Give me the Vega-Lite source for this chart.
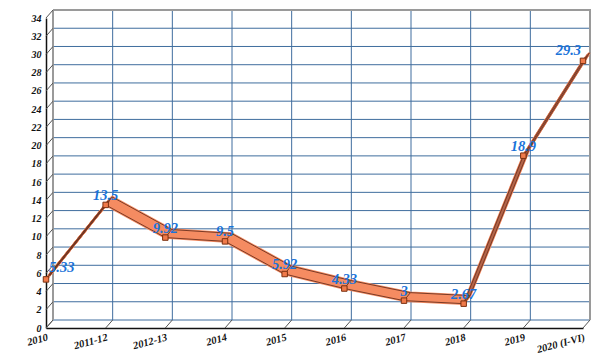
{
  "$schema": "https://vega.github.io/schema/vega-lite/v6.json",
  "width": 537,
  "height": 310,
  "autosize": {"type": "none"},
  "padding": {"left": 46, "top": 18, "right": 22, "bottom": 36},
  "background": "white",
  "datasets": {
    "main": [
      {"cat": "2010", "value": 5.33},
      {"cat": "2011-12", "value": 13.5},
      {"cat": "2012-13", "value": 9.92},
      {"cat": "2014", "value": 9.5},
      {"cat": "2015", "value": 5.92},
      {"cat": "2016", "value": 4.33},
      {"cat": "2017", "value": 3},
      {"cat": "2018", "value": 2.67},
      {"cat": "2019", "value": 18.9},
      {"cat": "2020 (I-VI)", "value": 29.3}
    ],
    "yt": [
      {"value": 0}, {"value": 2}, {"value": 4}, {"value": 6}, {"value": 8}, {"value": 10},
      {"value": 12}, {"value": 14}, {"value": 16}, {"value": 18}, {"value": 20}, {"value": 22},
      {"value": 24}, {"value": 26}, {"value": 28}, {"value": 30}, {"value": 32}, {"value": 34}
    ]
  },
  "config": {
    "view": {"stroke": null},
    "axis": {
      "title": null, "grid": false, "ticks": false,
      "labelFont": "Liberation Serif", "labelFontWeight": "bold", "labelFontStyle": "italic",
      "labelFontSize": 10, "labelColor": "#111111",
      "domainColor": "#111111", "domainWidth": 1.5
    }
  },
  "encoding": {
    "x": {
      "field": "cat", "type": "nominal",
      "scale": {"type": "point", "padding": 0, "domain": ["2010", "2011-12", "2012-13", "2014", "2015", "2016", "2017", "2018", "2019", "2020 (I-VI)"]},
      "axis": {"labelAngle": -15, "labelAlign": "right", "labelBaseline": "top", "labelPadding": 4, "labelOverlap": false, "labelFontSize": 10.5}
    },
    "y": {
      "field": "value", "type": "quantitative",
      "scale": {"domain": [0, 34], "nice": false, "zero": true},
      "axis": {"values": [0, 2, 4, 6, 8, 10, 12, 14, 16, 18, 20, 22, 24, 26, 28, 30, 32, 34], "labelPadding": 5}
    }
  },
  "layer": [
    {
      "data": {"name": "main"},
      "mark": {"type": "rule", "color": "#3f6d9e", "strokeWidth": 1, "xOffset": 7, "yOffset": -8, "y2Offset": -8},
      "encoding": {"y": {"datum": 0}, "y2": {"datum": 34}}
    },
    {
      "data": {"name": "yt"},
      "mark": {"type": "rule", "color": "#3f6d9e", "strokeWidth": 1, "xOffset": 7, "x2Offset": 7, "yOffset": -8},
      "encoding": {"x": {"datum": "2010"}, "x2": {"datum": "2020 (I-VI)"}}
    },
    {
      "data": {"name": "yt"},
      "transform": [{"filter": "datum.value == 34"}],
      "mark": {"type": "rule", "color": "#9a9a9a", "strokeWidth": 2, "xOffset": 7, "x2Offset": 8, "yOffset": -8},
      "encoding": {"x": {"datum": "2010"}, "x2": {"datum": "2020 (I-VI)"}}
    },
    {
      "data": {"name": "main"},
      "transform": [{"filter": "datum.cat == '2020 (I-VI)' || datum.cat == '2010'"}],
      "mark": {"type": "rule", "color": "#9a9a9a", "strokeWidth": 2, "xOffset": 7, "yOffset": -8, "y2Offset": -8},
      "encoding": {"y": {"datum": 0}, "y2": {"datum": 34}}
    },
    {
      "data": {"name": "yt"},
      "mark": {"type": "rule", "color": "#555555", "strokeWidth": 1, "x2Offset": 7, "y2Offset": -8},
      "encoding": {"x": {"datum": "2010"}, "x2": {"datum": "2010"}, "y2": {"field": "value"}}
    },
    {
      "data": {"name": "main"},
      "mark": {"type": "rule", "color": "#555555", "strokeWidth": 1, "x2Offset": 7, "y2Offset": -8},
      "encoding": {"x2": {"field": "cat"}, "y": {"datum": 0}, "y2": {"datum": 0}}
    },
    {"data": {"name": "main"}, "mark": {"type": "line", "color": "#f58c62", "strokeWidth": 2.5, "strokeJoin": "round", "xOffset": 0, "yOffset": 0}},
    {"data": {"name": "main"}, "mark": {"type": "line", "color": "#f58c62", "strokeWidth": 2.5, "strokeJoin": "round", "xOffset": 0.8, "yOffset": -1}},
    {"data": {"name": "main"}, "mark": {"type": "line", "color": "#f58c62", "strokeWidth": 2.5, "strokeJoin": "round", "xOffset": 1.6, "yOffset": -2}},
    {"data": {"name": "main"}, "mark": {"type": "line", "color": "#f58c62", "strokeWidth": 2.5, "strokeJoin": "round", "xOffset": 2.4, "yOffset": -3}},
    {"data": {"name": "main"}, "mark": {"type": "line", "color": "#f58c62", "strokeWidth": 2.5, "strokeJoin": "round", "xOffset": 3.2, "yOffset": -4}},
    {"data": {"name": "main"}, "mark": {"type": "line", "color": "#f58c62", "strokeWidth": 2.5, "strokeJoin": "round", "xOffset": 4, "yOffset": -5}},
    {"data": {"name": "main"}, "mark": {"type": "line", "color": "#f58c62", "strokeWidth": 2.5, "strokeJoin": "round", "xOffset": 4.8, "yOffset": -6}},
    {"data": {"name": "main"}, "mark": {"type": "line", "color": "#f58c62", "strokeWidth": 2.5, "strokeJoin": "round", "xOffset": 5.6, "yOffset": -7}},
    {"data": {"name": "main"}, "mark": {"type": "line", "color": "#f58c62", "strokeWidth": 2.5, "strokeJoin": "round", "xOffset": 6.4, "yOffset": -8}},
    {"data": {"name": "main"}, "transform": [{"filter": "datum.cat == '2018' || datum.cat == '2019' || datum.cat == '2020 (I-VI)'"}], "mark": {"type": "line", "color": "#b5654a", "strokeWidth": 2.5, "strokeJoin": "round", "xOffset": 1.6, "yOffset": -2}},
    {"data": {"name": "main"}, "transform": [{"filter": "datum.cat == '2018' || datum.cat == '2019' || datum.cat == '2020 (I-VI)'"}], "mark": {"type": "line", "color": "#b5654a", "strokeWidth": 2.5, "strokeJoin": "round", "xOffset": 3.2, "yOffset": -4}},
    {"data": {"name": "main"}, "transform": [{"filter": "datum.cat == '2018' || datum.cat == '2019' || datum.cat == '2020 (I-VI)'"}], "mark": {"type": "line", "color": "#b5654a", "strokeWidth": 2.5, "strokeJoin": "round", "xOffset": 4.8, "yOffset": -6}},
    {"data": {"name": "main"}, "transform": [{"filter": "datum.cat == '2010' || datum.cat == '2011-12'"}], "mark": {"type": "line", "color": "#5a2a1a", "strokeWidth": 2, "strokeJoin": "round", "xOffset": 3.2, "yOffset": -4}},
    {"data": {"name": "main"}, "mark": {"type": "line", "color": "#7a3a25", "strokeWidth": 1, "xOffset": 0, "yOffset": 0}},
    {"data": {"name": "main"}, "mark": {"type": "line", "color": "#7a3a25", "strokeWidth": 1, "xOffset": 6.4, "yOffset": -8}},
    {
      "data": {"name": "main"},
      "mark": {"type": "rule", "color": "#7a3a25", "strokeWidth": 1, "x2Offset": 6.4, "y2Offset": -8},
      "encoding": {"x2": {"field": "cat"}, "y2": {"field": "value"}}
    },
    {
      "data": {"name": "main"},
      "mark": {"type": "point", "shape": "square", "size": 30, "filled": true, "fill": "#f07a4a", "stroke": "#7a3010", "strokeWidth": 1, "opacity": 1}
    },
    {
      "data": {"name": "main"},
      "transform": [{"filter": "datum.cat != '2010' && datum.cat != '2020 (I-VI)'"}],
      "mark": {"type": "text", "font": "Liberation Serif", "fontWeight": "bold", "fontStyle": "italic", "fontSize": 14.5, "color": "#1a73d9", "align": "center", "baseline": "middle", "dy": -9},
      "encoding": {"text": {"field": "value", "type": "quantitative"}}
    },
    {
      "data": {"name": "main"},
      "transform": [{"filter": "datum.cat == '2010'"}],
      "mark": {"type": "text", "font": "Liberation Serif", "fontWeight": "bold", "fontStyle": "italic", "fontSize": 14.5, "color": "#1a73d9", "align": "left", "baseline": "middle", "dx": 3, "dy": -11},
      "encoding": {"text": {"field": "value", "type": "quantitative"}}
    },
    {
      "data": {"name": "main"},
      "transform": [{"filter": "datum.cat == '2020 (I-VI)'"}],
      "mark": {"type": "text", "font": "Liberation Serif", "fontWeight": "bold", "fontStyle": "italic", "fontSize": 14.5, "color": "#1a73d9", "align": "right", "baseline": "middle", "dx": -2, "dy": -10},
      "encoding": {"text": {"field": "value", "type": "quantitative"}}
    }
  ]
}
